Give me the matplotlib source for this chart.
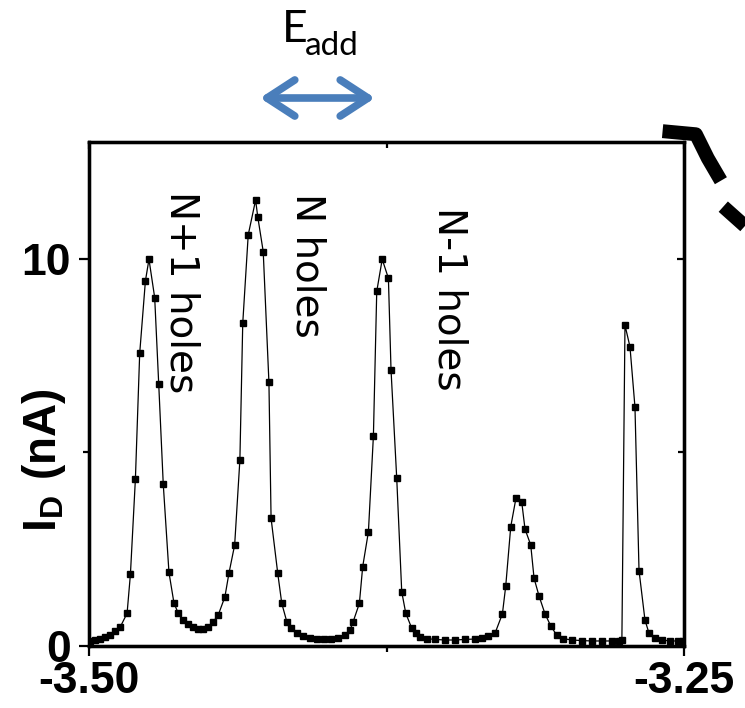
import matplotlib
matplotlib.use("Agg")
import matplotlib.pyplot as plt
from matplotlib.patches import FancyArrowPatch
import numpy as np

# gate voltage (V) and drain current (nA)
gate_v = [-3.4996, -3.4975, -3.4954, -3.4933, -3.4912, -3.4891, -3.4868, -3.4840,
          -3.4826, -3.4805, -3.4787, -3.4763, -3.4748, -3.4724, -3.4707, -3.4688,
          -3.4664, -3.4643, -3.4625, -3.4604, -3.4584, -3.4563, -3.4542, -3.4521,
          -3.4499, -3.4479, -3.4457, -3.4429, -3.4412, -3.4388, -3.4366, -3.4354,
          -3.4331, -3.4300, -3.4291, -3.4268, -3.4244, -3.4235, -3.4207, -3.4190,
          -3.4169, -3.4151, -3.4127, -3.4101, -3.4071, -3.4042, -3.4013, -3.3983,
          -3.3954, -3.3924, -3.3903, -3.3890, -3.3864, -3.3850, -3.3826, -3.3805,
          -3.3791, -3.3768, -3.3742, -3.3731, -3.3707, -3.3686, -3.3669, -3.3644,
          -3.3626, -3.3609, -3.3580, -3.3546, -3.3504, -3.3462, -3.3420, -3.3378,
          -3.3349, -3.3324, -3.3294, -3.3263, -3.3249, -3.3228, -3.3206, -3.3182,
          -3.3168, -3.3144, -3.3130, -3.3109, -3.3084, -3.3060, -3.3035, -3.3008,
          -3.2971, -3.2929, -3.2887, -3.2845, -3.2803, -3.2773, -3.2761, -3.2748,
          -3.2727, -3.2706, -3.2689, -3.2664, -3.2647, -3.2622, -3.2592, -3.2559,
          -3.2525, -3.2504]
current_na = [0.13, 0.155, 0.18, 0.23, 0.28, 0.39, 0.50, 0.845,
              1.85, 4.32, 7.56, 9.43, 9.99, 9.00, 6.76, 4.18,
              1.90, 1.11, 0.845, 0.67, 0.56, 0.48, 0.44, 0.44,
              0.50, 0.62, 0.80, 1.27, 1.88, 2.61, 4.81, 8.34,
              10.62, 11.52, 11.09, 10.19, 6.81, 3.30, 1.88, 1.10,
              0.63, 0.47, 0.34, 0.26, 0.21, 0.18, 0.17, 0.18,
              0.21, 0.28, 0.41, 0.63, 1.10, 2.05, 2.95, 5.43,
              9.16, 9.99, 9.50, 7.13, 4.33, 1.40, 0.845, 0.46,
              0.34, 0.24, 0.19, 0.17, 0.155, 0.155, 0.17, 0.18,
              0.21, 0.26, 0.33, 0.83, 1.55, 3.08, 3.82, 3.73,
              3.02, 2.61, 1.75, 1.29, 0.83, 0.52, 0.28, 0.19,
              0.155, 0.14, 0.13, 0.13, 0.13, 0.14, 0.155, 8.29,
              7.73, 6.17, 1.95, 0.67, 0.33, 0.21, 0.155, 0.13,
              0.13, 0.13]

# piece of a neighbouring trace that runs outside the frame (top right)
off_v = [-3.2590, -3.2450, -3.2400, -3.2345, np.nan, -3.2335, -3.2244]
off_na = [13.30, 13.22, 12.60, 12.02, np.nan, 11.35, 10.85]

peak_labels = ["N+1 holes", "N holes", "N-1 holes"]
x_major = [-3.50, -3.25]
x_minor = [-3.375]
y_major = [0, 10]
y_minor = [5]

W, H = 745, 708
plt.rcParams['axes.unicode_minus'] = False
plt.rcParams['mathtext.fontset'] = 'custom'
plt.rcParams['mathtext.bf'] = 'Liberation Sans:bold'
plt.rcParams['mathtext.rm'] = 'Liberation Sans:bold'

fig = plt.figure(figsize=(W / 100, H / 100), dpi=100)
ax = fig.add_axes([89 / W, 1 - 646 / H, (684 - 89) / W, (646 - 142) / H])

ax.plot(gate_v, current_na, color='black', lw=0.9, marker='s', ms=4.8,
        mec='black', mfc='black')
ax.plot(off_v, off_na, color='black', lw=10, clip_on=False,
        solid_capstyle='butt', solid_joinstyle='round')

ax.set_xlim(-3.50, -3.25)
ax.set_ylim(0, 13.02)
ax.set_xticks(x_major)
ax.set_xticklabels(["-3.50", "-3.25"])
ax.set_xticks(x_minor, minor=True)
ax.set_yticks(y_major)
ax.set_yticks(y_minor, minor=True)

for s in ax.spines.values():
    s.set_linewidth(2.3)
ax.tick_params(which='major', direction='out', length=7, width=1.6,
               labelsize=32)
ax.tick_params(axis='x', which='major', pad=4)
ax.tick_params(axis='y', which='major', pad=6)
ax.tick_params(which='minor', direction='out', length=4, width=1.6)
for lab in ax.get_xticklabels() + ax.get_yticklabels():
    lab.set_family('Liberation Sans')
    lab.set_fontweight('bold')

# inward ticks on the right and top
axr = ax.twinx()
axr.set_ylim(ax.get_ylim())
axr.set_yticks(y_major)
axr.set_yticks(y_minor, minor=True)
axr.tick_params(which='both', direction='in', labelright=False, width=1.6)
axr.tick_params(which='major', length=5)
axr.tick_params(which='minor', length=4)
axt = ax.twiny()
axt.set_xlim(ax.get_xlim())
axt.set_xticks(x_major)
axt.set_xticks(x_minor, minor=True)
axt.tick_params(which='both', direction='in', labeltop=False, width=1.6)
axt.tick_params(which='major', length=5)
axt.tick_params(which='minor', length=4)
for a in (axr, axt):
    for s in a.spines.values():
        s.set_linewidth(2.3)

# peak labels
label_pos = [(181, 292), (307, 265), (450, 299)]
for txt, (px, py) in zip(peak_labels, label_pos):
    fig.text(px / W, 1 - py / H, txt, rotation=-90, ha='center', va='center',
             fontsize=28, family='DejaVu Sans')

# y label
fig.text(44 / W, 1 - 460 / H, r'$\mathbf{I_D\ (nA)}$', rotation=90,
         ha='center', va='center', fontsize=33)

# addition energy marker
fig.text(282 / W, 1 - 42 / H, "E", fontsize=32, family='Lato',
         ha='left', va='baseline')
fig.text(305 / W, 1 - 55 / H, "add", fontsize=24, family='Lato',
         ha='left', va='baseline')
arrow = FancyArrowPatch((260 / W, 1 - 98 / H), (375 / W, 1 - 98 / H),
                        transform=fig.transFigure,
                        arrowstyle='<->,head_length=20,head_width=13',
                        mutation_scale=1, lw=5.5, color='#4A7EBB',
                        capstyle='round', joinstyle='round',
                        shrinkA=0, shrinkB=0)
fig.add_artist(arrow)

fig.savefig('out.png', dpi=100)
